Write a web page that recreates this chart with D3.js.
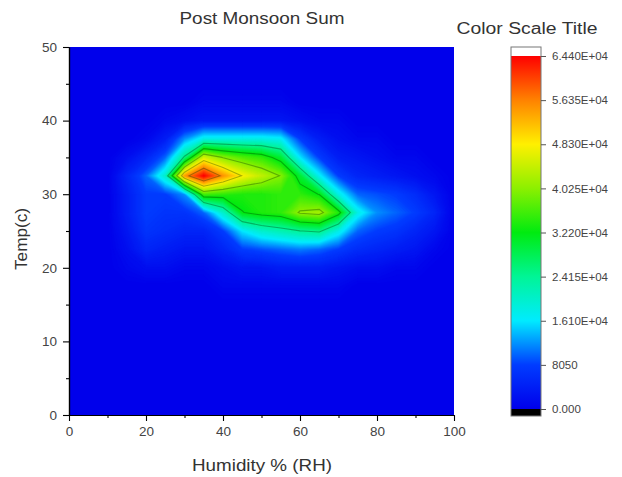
<!DOCTYPE html>
<html><head><meta charset="utf-8">
<script src="https://cdn.jsdelivr.net/npm/d3@7"></script>
<style>
body{margin:0;background:#fff;}
text{font-family:"Liberation Sans",Arial,sans-serif;}
</style>
</head><body>
<svg id="chart" width="622" height="477"></svg>
<script>
// ---------- data ----------
const humidityGrid = [0,5,10,15,20,25,30,35,40,45,50,55,60,65,70,75,80,85,90,95,100];
const tempGrid = [0,2.5,5,7.5,10,12.5,15,17.5,20,22.5,25,27.5,30,32.5,35,37.5,40,42.5,45,47.5,50];
// values in thousands, one row per temperature (bottom to top), one column per humidity
const zThousands = [
 [0,0,0,0,0,0,0,0,0,0,0,0,0,0,0,0,0,0,0,0,0], // 0
 [0,0,0,0,0,0,0,0,0,0,0,0,0,0,0,0,0,0,0,0,0], // 2.5
 [0,0,0,0,0,0,0,0,0,0,0,0,0,0,0,0,0,0,0,0,0], // 5
 [0,0,0,0,0,0,0,0,0,0,0,0,0,0,0,0,0,0,0,0,0], // 7.5
 [0,0,0,0,0,0,0,0,0,0,0,0,0,0,0,0,0,0,0,0,0], // 10
 [0,0,0,0,0,0,0,0,0,0,0,0,0,0,0,0,0,0,0,0,0], // 12.5
 [0,0,0,0,0,0,0,0,0,0,0,0,0,0,0,0,0,0,0,0,0], // 15
 [0,0,0,0,0,0,0,0,1,1,1,1,1,1,1,0,0,0,0,0,0], // 17.5
 [0,0,0,1,2,2,1,1,2,3,3,4,4,4,3,2,2,1,1,0,0], // 20
 [0,0,0,2,5,4,3,3,5,8,9,10,11,10,8,6,5,4,3,1,0], // 22.5
 [0,0,0,3,7,6,5,5,8,16,20,22,24,25,18,10,8,7,5,3,0], // 25
 [0,0,0,4,8,7,7,10,20,32,34,35,40.8,42,34,18,12,10,8,5,0], // 27.5
 [0,0,0,4,8,8,12,36,35,34,34,35,35,32,18,10,9,8,6,3,0], // 30
 [0,0,0,5,10,20,54,64.4,55,48,44,40,30,17,8,5,4,3,2,1,0], // 32.5
 [0,0,0,2,5,10,25,45,40,37,35,30,16,8,4,3,2,1,1,0,0], // 35
 [0,0,0,0,1,4,12,18,18,18,18,17,8,4,2,1,1,0,0,0,0], // 37.5
 [0,0,0,0,0,1,2,3,3,3,3,3,2,1,1,0,0,0,0,0,0], // 40
 [0,0,0,0,0,0,0,1,1,1,1,1,0,0,0,0,0,0,0,0,0], // 42.5
 [0,0,0,0,0,0,0,0,0,0,0,0,0,0,0,0,0,0,0,0,0], // 45
 [0,0,0,0,0,0,0,0,0,0,0,0,0,0,0,0,0,0,0,0,0], // 47.5
 [0,0,0,0,0,0,0,0,0,0,0,0,0,0,0,0,0,0,0,0,0]  // 50
];
const colorLevels = [0,8050,16100,24150,32200,40250,48300,56350,64400];
const colorValues = ["#0000eb","#003cff","#00ebff","#00f596","#00eb10","#8cf000","#fff000","#ff8200","#ff0000"];
const lineLevels = [24150,32200,40250,48300,56350];
const colorbarTicks = [0,8050,16100,24150,32200,40250,48300,56350,64400];
const colorbarLabels = ["0.000","8050","1.610E+04","2.415E+04","3.220E+04","4.025E+04","4.830E+04","5.635E+04","6.440E+04"];
const xTicks = [0,20,40,60,80,100];
const xMinor = [10,30,50,70,90];
const yTicks = [0,10,20,30,40,50];
const yMinor = [5,15,25,35,45];

// ---------- drawing ----------
const svg = d3.select("#chart");
const L=69,R=454,T=47,B=415;
const x = d3.scaleLinear().domain([0,100]).range([L,R]);
const y = d3.scaleLinear().domain([0,50]).range([B,T]);
const color = d3.scaleLinear().domain(colorLevels).range(colorValues).clamp(true);

svg.append("defs").append("clipPath").attr("id","pc")
  .append("rect").attr("x",L).attr("y",T).attr("width",R-L).attr("height",B-T);

const nx = humidityGrid.length, ny = tempGrid.length;
const flat = [];
for (let j=0;j<ny;j++) for (let i=0;i<nx;i++) flat.push(zThousands[j][i]*1000);
const hStep = humidityGrid[1]-humidityGrid[0], tStep = tempGrid[1]-tempGrid[0];
const gx = c => x(humidityGrid[0] + (c-0.5)*hStep);
const gy = c => y(tempGrid[0] + (c-0.5)*tStep);
const path = d3.geoPath(d3.geoTransform({point(px,py){ this.stream.point(gx(px), gy(py)); }}));

const g = svg.append("g").attr("clip-path","url(#pc)");
g.append("rect").attr("x",L).attr("y",T).attr("width",R-L).attr("height",B-T).attr("fill",color(0));
const fillThr = d3.range(300, 64400, 300);
const fills = d3.contours().size([nx,ny]).smooth(true).thresholds(fillThr)(flat);
g.selectAll("path.f").data(fills).join("path").attr("class","f")
  .attr("d",path).attr("fill",d=>color(d.value)).attr("stroke",d=>color(d.value)).attr("stroke-width",0.4);
const lines = d3.contours().size([nx,ny]).smooth(true).thresholds(lineLevels)(flat);
g.selectAll("path.l").data(lines).join("path").attr("class","l")
  .attr("d",path).attr("fill","none").attr("stroke","rgba(0,50,0,0.34)").attr("stroke-width",1.1);

// axes
function styleAxis(sel){
  sel.select(".domain").attr("stroke","#000").attr("stroke-width",1.2);
  sel.selectAll(".tick line").attr("stroke","#000").attr("stroke-width",1.1);
  sel.selectAll(".tick text").attr("fill","#444").style("font-size","13.5px").style("font-family",'"Liberation Sans",Arial,sans-serif');
}
const xa = svg.append("g").attr("transform",`translate(0,${B})`)
  .call(d3.axisBottom(x).tickValues(xTicks).tickSize(6).tickSizeOuter(0).tickPadding(5));
styleAxis(xa);
const xm = svg.append("g").attr("transform",`translate(0,${B})`)
  .call(d3.axisBottom(x).tickValues(xMinor).tickSize(3).tickSizeOuter(0).tickFormat(""));
styleAxis(xm);
const ya = svg.append("g").attr("transform",`translate(${L},0)`)
  .call(d3.axisLeft(y).tickValues(yTicks).tickSize(6).tickSizeOuter(0).tickPadding(6));
styleAxis(ya);
const ym = svg.append("g").attr("transform",`translate(${L},0)`)
  .call(d3.axisLeft(y).tickValues(yMinor).tickSize(3).tickSizeOuter(0).tickFormat(""));
styleAxis(ym);

// titles
svg.append("text").attr("x",262).attr("y",24).attr("text-anchor","middle")
  .attr("fill","#333").style("font-size","16px").attr("textLength",165).attr("lengthAdjust","spacingAndGlyphs")
  .text("Post Monsoon Sum");
svg.append("text").attr("x",262).attr("y",471).attr("text-anchor","middle")
  .attr("fill","#333").style("font-size","17px").attr("textLength",140).attr("lengthAdjust","spacingAndGlyphs")
  .text("Humidity % (RH)");
svg.append("text").attr("transform","translate(27,239) rotate(-90)").attr("text-anchor","middle")
  .attr("fill","#333").style("font-size","16px").attr("textLength",62).attr("lengthAdjust","spacingAndGlyphs")
  .text("Temp(c)");
svg.append("text").attr("x",527).attr("y",34).attr("text-anchor","middle")
  .attr("fill","#333").style("font-size","16px").attr("textLength",141).attr("lengthAdjust","spacingAndGlyphs")
  .text("Color Scale Title");

// colorbar
const cbX=511, cbW=30, cbTop=47, cbBot=416;
const cbY = d3.scaleLinear().domain([0,64400]).range([409,56]);
const grad = svg.select("defs").append("linearGradient").attr("id","cbg")
  .attr("x1",0).attr("x2",0).attr("y1",1).attr("y2",0);
colorLevels.forEach((v,i)=>{
  grad.append("stop").attr("offset",(v/64400)).attr("stop-color",colorValues[i]);
});
svg.append("rect").attr("x",cbX).attr("y",cbTop).attr("width",cbW).attr("height",cbY(64400)-cbTop).attr("fill","#fff");
svg.append("rect").attr("x",cbX).attr("y",cbY(64400)).attr("width",cbW).attr("height",cbY(0)-cbY(64400)).attr("fill","url(#cbg)");
svg.append("rect").attr("x",cbX).attr("y",cbY(0)).attr("width",cbW).attr("height",cbBot-cbY(0)).attr("fill","#000");
svg.append("rect").attr("x",cbX).attr("y",cbTop).attr("width",cbW).attr("height",cbBot-cbTop)
  .attr("fill","none").attr("stroke","#777").attr("stroke-width",1);
const cba = svg.append("g").attr("transform",`translate(${cbX+cbW},0)`)
  .call(d3.axisRight(cbY).tickValues(colorbarTicks).tickSize(5).tickSizeOuter(0).tickPadding(6)
    .tickFormat((d,i)=>colorbarLabels[i]));
cba.select(".domain").remove();
cba.selectAll(".tick line").attr("stroke","#555");
cba.selectAll(".tick text").attr("fill","#444").style("font-size","11.5px").style("font-family",'"Liberation Sans",Arial,sans-serif');
</script>
</body></html>
